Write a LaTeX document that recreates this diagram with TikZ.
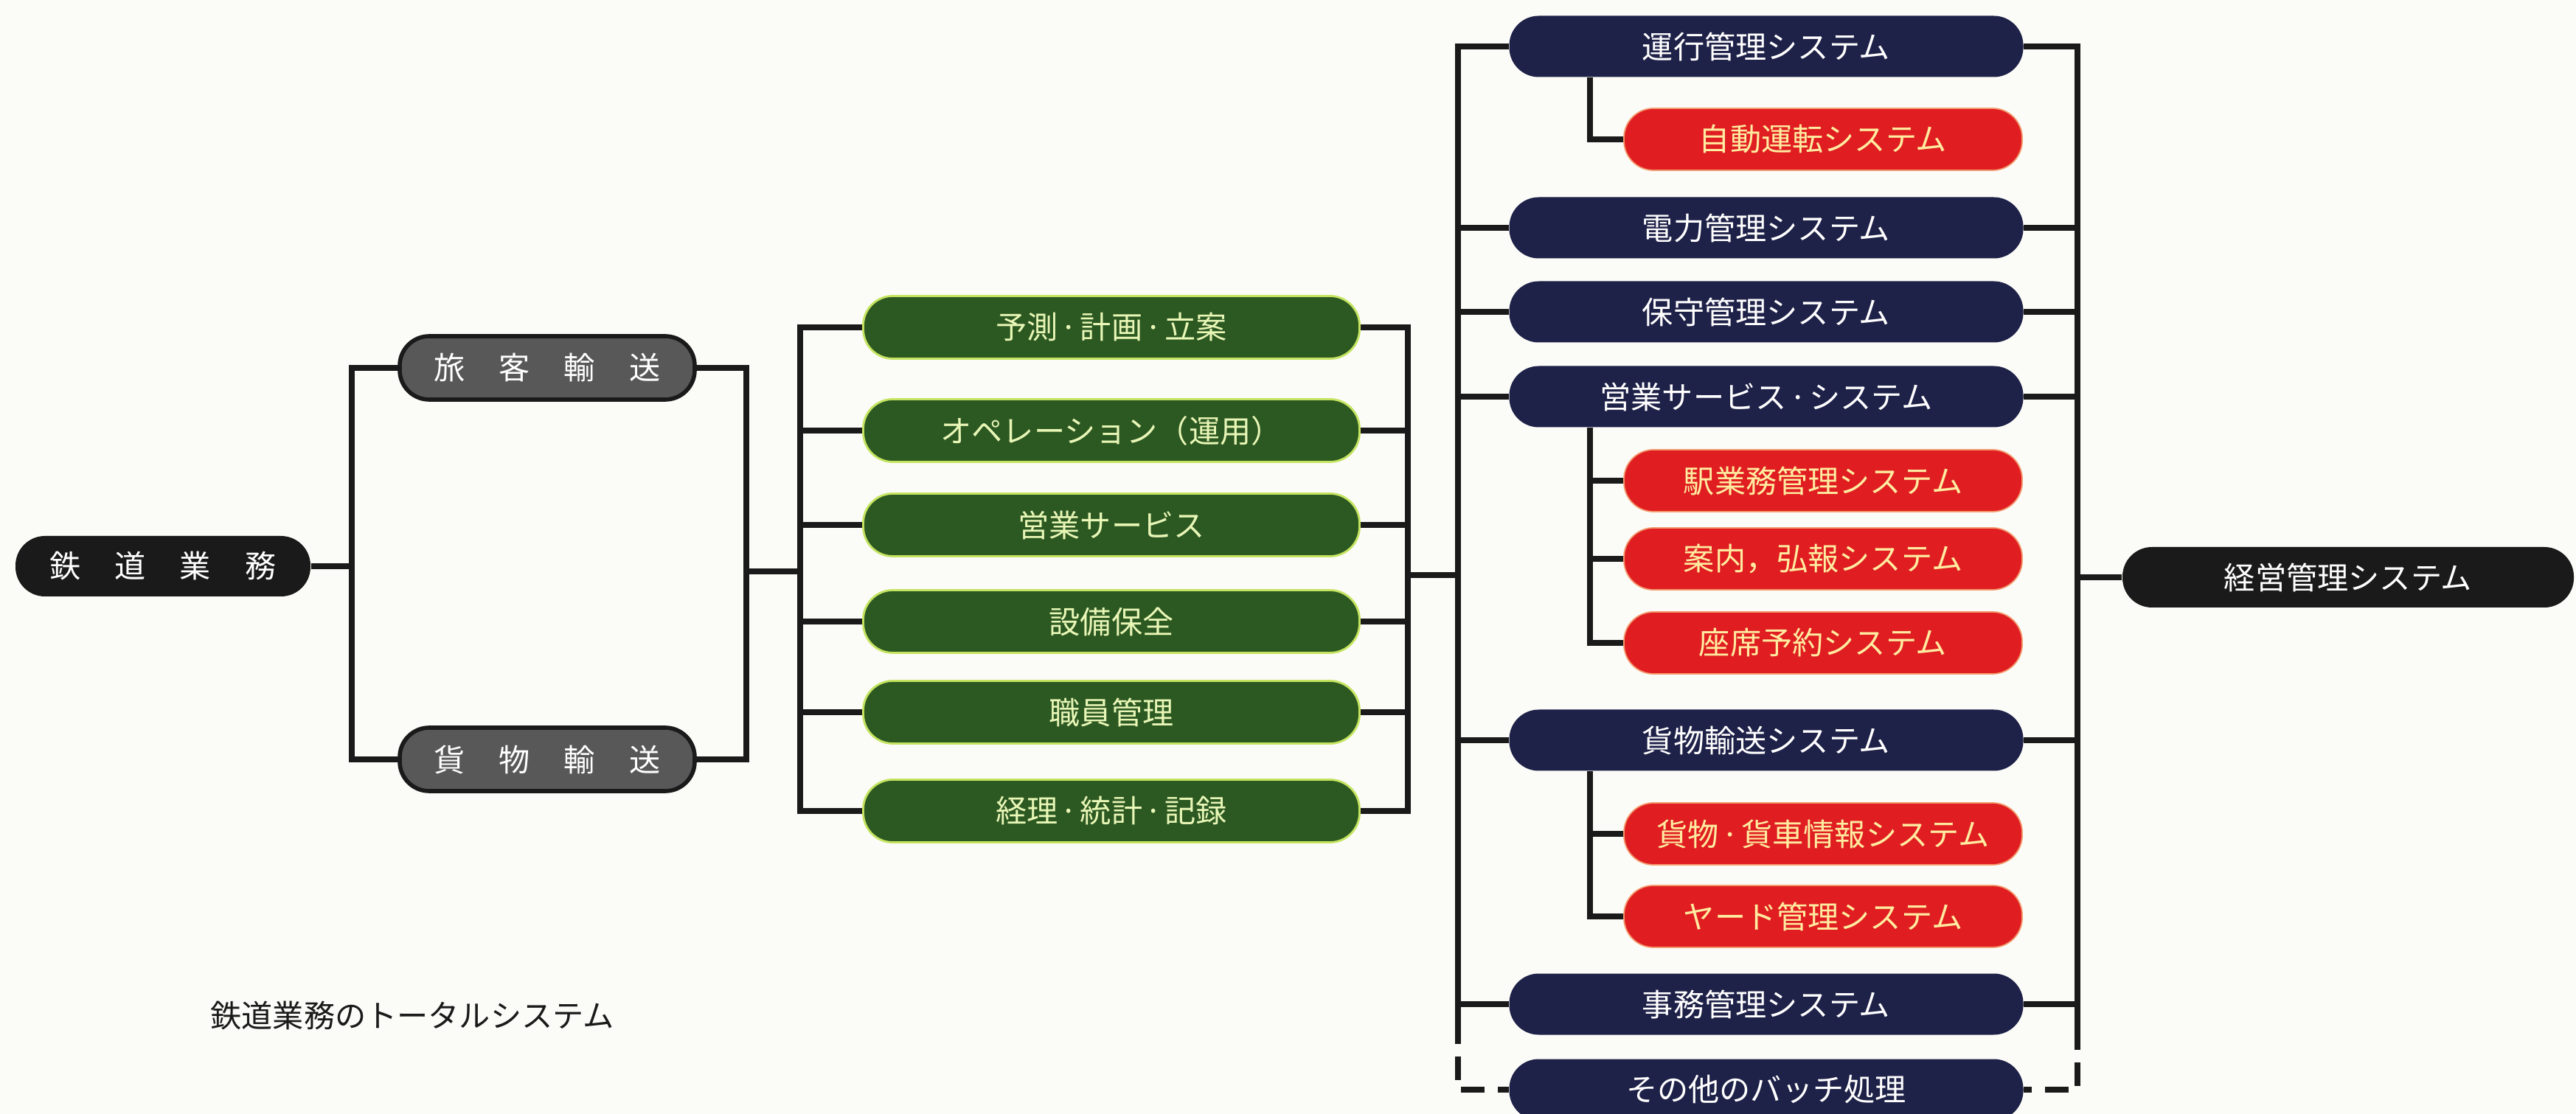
\documentclass[tikz,border=0pt]{standalone}
\usepackage{fontspec}
\newfontfamily\jpfont{Noto Sans CJK JP}
\definecolor{bgcol}{RGB}{251,251,247}
\definecolor{boxblack}{RGB}{26,26,26}
\definecolor{boxgrey}{RGB}{88,88,88}
\definecolor{boxgreen}{RGB}{44,88,34}
\definecolor{rimgreen}{RGB}{196,228,96}
\definecolor{txtgreen}{RGB}{232,246,182}
\definecolor{boxnavy}{RGB}{30,33,72}
\definecolor{boxred}{RGB}{224,30,34}
\definecolor{txtred}{RGB}{255,236,160}
\newcommand{\mdot}{\hspace{0.08em}·\hspace{0.08em}}
\tikzset{
  box/.style={rectangle, rounded corners=0.4cm, minimum height=0.84cm, inner sep=0pt,
    font=\jpfont\fontsize{12}{14}\selectfont, text=white},
  blackbox/.style={box, fill=boxblack, minimum width=4.0cm, minimum height=0.82cm},
  greybox/.style={box, fill=boxgrey, draw=boxblack, line width=1.6pt, minimum width=4.0cm, minimum height=0.86cm},
  greenbox/.style={box, fill=boxgreen, draw=rimgreen, line width=0.8pt, text=txtgreen, minimum width=6.73cm, minimum height=0.85cm},
  navybox/.style={box, fill=boxnavy, minimum width=6.97cm, minimum height=0.83cm},
  redbox/.style={box, fill=boxred, draw=txtred!60!boxred, line width=0.5pt, text=txtred, minimum width=5.40cm, minimum height=0.84cm},
  wire/.style={line width=2.3pt, draw=boxblack, line join=miter},
  dashwire/.style={wire, dash pattern=on 9pt off 5pt}
}
\begin{document}
\begin{tikzpicture}
\fill[bgcol] (0,0) rectangle (34.93,-15.11);
\useasboundingbox (0,0) rectangle (34.93,-15.11);
\begin{scope}
\clip (0,0) rectangle (34.93,-15.11);
% level 1
\node[blackbox] (tetsudo) at (2.21,-7.68) {鉄\hspace{0.46cm}道\hspace{0.46cm}業\hspace{0.46cm}務};
% level 2
\node[greybox] (ryokaku) at (7.42,-4.99) {旅\hspace{0.46cm}客\hspace{0.46cm}輸\hspace{0.46cm}送};
\node[greybox] (kamotsu) at (7.42,-10.30) {貨\hspace{0.46cm}物\hspace{0.46cm}輸\hspace{0.46cm}送};
% level 3
\node[greenbox] (g1) at (15.07,-4.44) {予測\mdot 計画\mdot 立案};
\node[greenbox] (g2) at (15.07,-5.84) {オペレーション（運用）};
\node[greenbox] (g3) at (15.07,-7.12) {営業サービス};
\node[greenbox] (g4) at (15.07,-8.43) {設備保全};
\node[greenbox] (g5) at (15.07,-9.66) {職員管理};
\node[greenbox] (g6) at (15.07,-11.00) {経理\mdot 統計\mdot 記録};
% level 4
\node[navybox] (unko) at (23.95,-0.63) {運行管理システム};
\node[redbox] (jido) at (24.72,-1.89) {自動運転システム};
\node[navybox] (denryoku) at (23.95,-3.09) {電力管理システム};
\node[navybox] (hoshu) at (23.95,-4.23) {保守管理システム};
\node[navybox] (eigyo) at (23.95,-5.38) {営業サービス\mdot システム};
\node[redbox] (eki) at (24.72,-6.52) {駅業務管理システム};
\node[redbox] (annai) at (24.72,-7.58) {案内，弘報システム};
\node[redbox] (zaseki) at (24.72,-8.72) {座席予約システム};
\node[navybox] (kamotsusys) at (23.95,-10.04) {貨物輸送システム};
\node[redbox] (kasha) at (24.72,-11.31) {貨物\mdot 貨車情報システム};
\node[redbox] (yard) at (24.72,-12.43) {ヤード管理システム};
\node[navybox] (jimu) at (23.95,-13.62) {事務管理システム};
\node[navybox] (sonota) at (23.95,-14.78) {その他のバッチ処理};
% level 5
\node[blackbox, minimum width=6.12cm] (keiei) at (31.84,-7.83) {経営管理システム};
% caption
\node[font=\jpfont\fontsize{12}{14}\selectfont, text=boxblack] (caption) at (5.59,-13.78) {鉄道業務のトータルシステム};

% bus coordinates
\coordinate (b1) at (4.77,-7.68);
\coordinate (b2) at (10.12,-7.75);
\coordinate (b3) at (10.85,-7.75);
\coordinate (b4) at (19.09,-7.80);
\coordinate (b5) at (19.77,-7.80);
\coordinate (b6) at (28.17,-7.83);
\coordinate (sb) at (21.56,0);
\coordinate (lbend) at (19.77,-13.84);
\coordinate (rbend) at (28.17,-13.92);

% connectors
\draw[wire] (tetsudo.east) -- (b1);
\draw[wire] (ryokaku.west) -| (b1) |- (kamotsu.west);
\draw[wire] (ryokaku.east) -| (b2) |- (kamotsu.east);
\draw[wire] (b2) -- (b3);
\draw[wire] (g1.west) -| (b3) |- (g6.west);
\foreach \n in {g2,g3,g4,g5} \draw[wire] (\n.west) -- (\n.west -| b3);
\draw[wire] (g1.east) -| (b4) |- (g6.east);
\foreach \n in {g2,g3,g4,g5} \draw[wire] (\n.east) -- (\n.east -| b4);
\draw[wire] (b4) -- (b5);
\draw[wire] (unko.west) -| (lbend);
\foreach \n in {denryoku,hoshu,eigyo,kamotsusys,jimu} \draw[wire] (\n.west) -- (\n.west -| b5);
\draw[dashwire] (lbend) |- (sonota.west);
\draw[wire] (unko.east) -| (rbend);
\foreach \n in {denryoku,hoshu,eigyo,kamotsusys,jimu} \draw[wire] (\n.east) -- (\n.east -| b6);
\draw[dashwire] (rbend) |- (sonota.east);
\draw[wire] (b6) -- (keiei.west);
% sub-buses
\draw[wire] (unko.south -| sb) |- (jido.west);
\draw[wire] (eigyo.south -| sb) |- (zaseki.west);
\draw[wire] (eki.west) -- (eki.west -| sb);
\draw[wire] (annai.west) -- (annai.west -| sb);
\draw[wire] (kamotsusys.south -| sb) |- (yard.west);
\draw[wire] (kasha.west) -- (kasha.west -| sb);
\end{scope}
\end{tikzpicture}
\end{document}
